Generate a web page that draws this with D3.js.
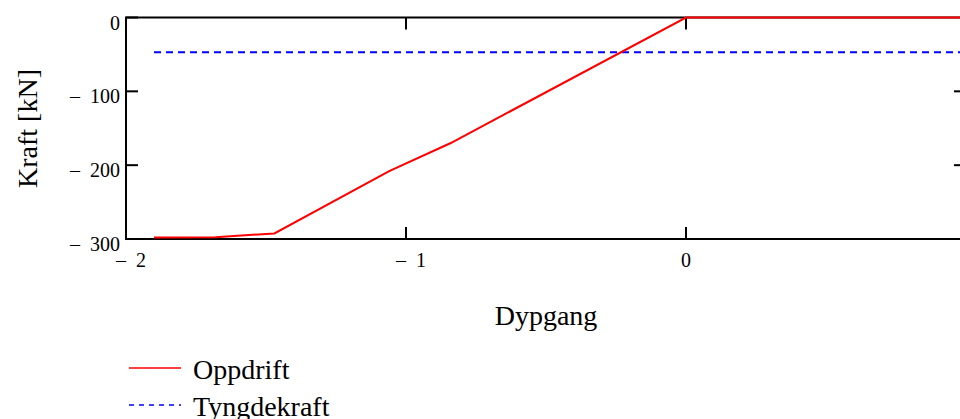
<!DOCTYPE html>
<html>
<head>
<meta charset="utf-8">
<script src="https://cdn.jsdelivr.net/npm/d3@7"></script>
<style>
  html, body { margin: 0; padding: 0; background: #fff; overflow: hidden; }
  text { font-family: "Liberation Serif", "Times New Roman", serif; fill: #000; }
</style>
</head>
<body>
<svg id="chart" width="960" height="419"></svg>
<script>
// Data
const oppdriftX = [-1.9, -1.68, -1.47, -1.06, -0.84, 0, 1];
const oppdriftY = [-298, -297.5, -292.5, -208, -170, 0, 0];
const tyngdeX = [-1.9, 1];
const tyngdeY = [-47, -47];
const xTicks = [-2, -1, 0];
const yTicks = [0, -100, -200, -300];
const seriesNames = ["Oppdrift", "Tyngdekraft"];

const svg = d3.select("#chart");
const x = d3.scaleLinear().domain([-2, 1]).range([126, 966]);
const y = d3.scaleLinear().domain([0, -300]).range([17.5, 239]);

const fmt = v => v < 0 ? "\u2013\u2002" + Math.abs(v) : String(v);

// Frame
svg.append("rect")
  .attr("x", x(-2)).attr("y", y(0))
  .attr("width", x(1) - x(-2)).attr("height", y(-300) - y(0))
  .attr("fill", "none").attr("stroke", "#000").attr("stroke-width", 2);

// Inner ticks
const tickLen = 12;
xTicks.filter(t => t > -2).forEach(t => {
  svg.append("line").attr("x1", x(t)).attr("x2", x(t))
    .attr("y1", y(-300)).attr("y2", y(-300) - tickLen)
    .attr("stroke", "#000").attr("stroke-width", 2);
  svg.append("line").attr("x1", x(t)).attr("x2", x(t))
    .attr("y1", y(0)).attr("y2", y(0) + tickLen)
    .attr("stroke", "#000").attr("stroke-width", 2);
});
yTicks.filter(t => t > -300 && t < 0).forEach(t => {
  svg.append("line").attr("x1", x(-2)).attr("x2", x(-2) + tickLen)
    .attr("y1", y(t)).attr("y2", y(t))
    .attr("stroke", "#000").attr("stroke-width", 2);
  svg.append("line").attr("x1", x(1)).attr("x2", x(1) - tickLen)
    .attr("y1", y(t)).attr("y2", y(t))
    .attr("stroke", "#000").attr("stroke-width", 2);
});
svg.append("line").attr("x1", x(-2)).attr("x2", x(-2) + tickLen)
  .attr("y1", y(0)).attr("y2", y(0)).attr("stroke", "#000").attr("stroke-width", 2);

// Tick labels
svg.selectAll("text.xt").data(xTicks).enter().append("text")
  .attr("class", "xt")
  .attr("x", d => x(d) + (d < 0 ? 5 : 0)).attr("y", 267)
  .attr("text-anchor", "middle").attr("font-size", 20)
  .text(fmt);
svg.selectAll("text.yt").data(yTicks).enter().append("text")
  .attr("class", "yt")
  .attr("x", 120).attr("y", d => y(d) + 12)
  .attr("text-anchor", "end").attr("font-size", 20)
  .text(fmt);

// Series
const line = d3.line().x(d => x(d[0])).y(d => y(d[1]));
svg.append("path")
  .datum(tyngdeX.map((v, i) => [v, tyngdeY[i]]))
  .attr("d", line).attr("fill", "none")
  .attr("stroke", "#0000ff").attr("stroke-width", 2)
  .attr("stroke-dasharray", "7,5");
svg.append("path")
  .datum(oppdriftX.map((v, i) => [v, oppdriftY[i]]))
  .attr("d", line).attr("fill", "none")
  .attr("stroke", "#ff0000").attr("stroke-width", 2);

// Axis titles
svg.append("text").attr("x", 546).attr("y", 325)
  .attr("text-anchor", "middle").attr("font-size", 28).text("Dypgang");
svg.append("text").attr("transform", "translate(37,128.5) rotate(-90)")
  .attr("text-anchor", "middle").attr("font-size", 28).text("Kraft [kN]");

// Legend
const leg = [
  {name: seriesNames[0], color: "#ff0000", dash: null, ly: 368, ty: 379, w: 1.5},
  {name: seriesNames[1], color: "#0000ff", dash: "5,5", ly: 405, ty: 416, w: 1.5}
];
leg.forEach(l => {
  svg.append("line").attr("x1", 129).attr("x2", 181)
    .attr("y1", l.ly).attr("y2", l.ly)
    .attr("stroke", l.color).attr("stroke-width", l.w)
    .attr("stroke-dasharray", l.dash);
  svg.append("text").attr("x", 193).attr("y", l.ty)
    .attr("font-size", 28).text(l.name);
});
</script>
</body>
</html>
